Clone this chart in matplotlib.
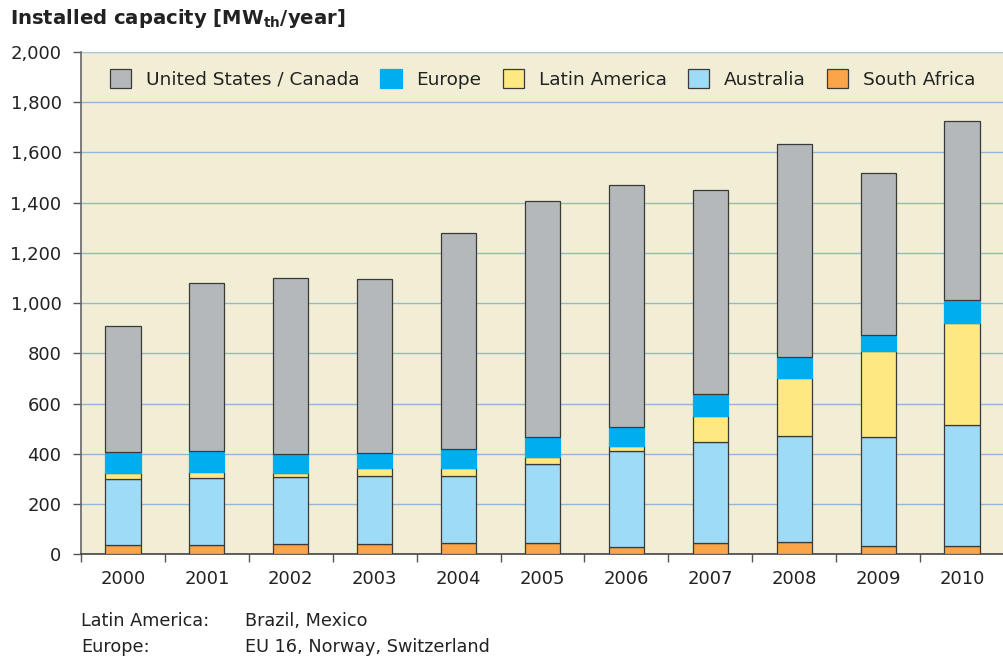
import matplotlib
matplotlib.use("Agg")
import matplotlib.pyplot as plt
import numpy as np

years = ["2000", "2001", "2002", "2003", "2004", "2005", "2006", "2007", "2008", "2009", "2010"]
south_africa = [36, 38, 40, 40, 44, 44, 28, 45, 50, 33, 33]
australia = [265, 266, 266, 270, 269, 316, 384, 404, 423, 436, 480]
latin_america = [24, 24, 19, 35, 29, 29, 21, 100, 229, 339, 409]
europe = [83, 84, 76, 59, 78, 78, 75, 88, 82, 66, 91]
us_canada = [502, 670, 699, 691, 858, 941, 962, 813, 849, 646, 712]

series = [
    ("South Africa", south_africa, "#fba54a"),
    ("Australia", australia, "#9ddbf6"),
    ("Latin America", latin_america, "#fde882"),
    ("Europe", europe, "#00adee"),
    ("United States / Canada", us_canada, "#b5b8bb"),
]
legend_order = ["United States / Canada", "Europe", "Latin America", "Australia", "South Africa"]

plt.rcParams['font.family'] = ['DejaVu Sans']
fig = plt.figure(figsize=(10.04, 6.58), dpi=100)
ax = fig.add_axes([81/1004, 103.7/658, 923/1004, 502.3/658])
ax.set_facecolor("#f2eed5")

x = np.arange(len(years))
bottom = np.zeros(len(years))
handles = {}
for name, vals, col in series:
    v = np.array(vals, dtype=float)
    ec = "#00adee" if name == "Europe" else "#3a3a3a"
    b = ax.bar(x, v, 0.42, bottom=bottom, color=col, edgecolor=ec, linewidth=0.9, zorder=3)
    handles[name] = b
    bottom += v

ax.set_xlim(-0.5, -0.5 + 923/84.4)
ax.set_ylim(0, 2000)
ax.set_yticks(np.arange(0, 2001, 200))
ax.set_yticklabels([f"{v:,}" for v in range(0, 2001, 200)])
ax.set_xticks(x)
ax.set_xticklabels(years)
ax.set_xticks(np.arange(-0.5, 10.6, 1), minor=True)
ax.tick_params(axis='x', which='major', length=0, pad=11, labelsize=13, colors="#222222")
ax.tick_params(axis='x', which='minor', length=6, width=1, color="#555555", direction='out')
ax.tick_params(axis='y', length=6, width=1, color="#555555", pad=8, labelsize=13, labelcolor="#222222")

ax.grid(axis='y', color="#93b6d2", linewidth=1, zorder=0)
ax.set_axisbelow(True)
for s in ["top", "right"]:
    ax.spines[s].set_visible(False)
ax.axhline(2000, color="#a9c5d6", linewidth=1.5, zorder=1)
ax.spines["left"].set_color("#666666")
ax.spines["bottom"].set_color("#444444")
ax.spines["left"].set_linewidth(1.2)
ax.spines["bottom"].set_linewidth(1.2)

leg = ax.legend([handles[n] for n in legend_order], legend_order, loc="center",
                bbox_to_anchor=(0.5, 0.946), ncol=5, frameon=False, fontsize=13.3,
                handlelength=1.15, handleheight=1.15, handletextpad=0.8, columnspacing=1.15)
for t in leg.get_texts():
    t.set_color("#222222")

fig.text(10/1004, 1 - 18/658, r"Installed capacity [MW$_{\mathbf{th}}$/year]", fontsize=14.1,
         fontweight="bold", va="center", ha="left", color="#222222")

fs = 12.7
fig.text(81/1004, 1 - 621/658, "Latin America:", fontsize=fs, va="center", ha="left", color="#222222")
fig.text(245/1004, 1 - 621/658, "Brazil, Mexico", fontsize=fs, va="center", ha="left", color="#222222")
fig.text(81/1004, 1 - 647/658, "Europe:", fontsize=fs, va="center", ha="left", color="#222222")
fig.text(245/1004, 1 - 647/658, "EU 16, Norway, Switzerland", fontsize=fs, va="center", ha="left", color="#222222")

fig.savefig("out.png", dpi=100)
